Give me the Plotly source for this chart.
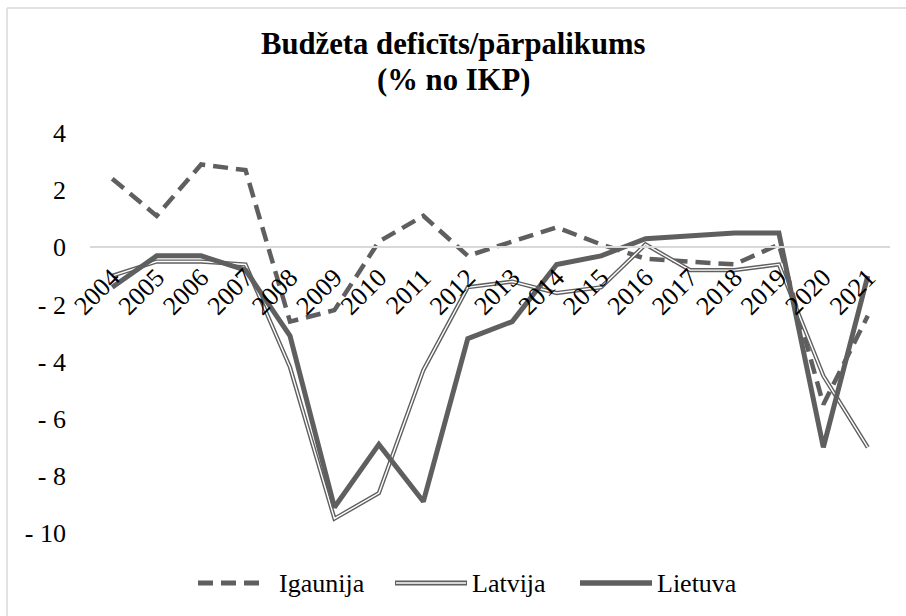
import plotly.graph_objects as go

years = [str(y) for y in range(2004, 2022)]
igaunija = [2.4, 1.1, 2.9, 2.7, -2.6, -2.2, 0.2, 1.1, -0.3, 0.2, 0.7, 0.1, -0.4, -0.5, -0.6, 0.1, -5.5, -2.4]
latvija = [-1.0, -0.5, -0.5, -0.6, -4.2, -9.5, -8.6, -4.3, -1.4, -1.2, -1.6, -1.4, 0.1, -0.8, -0.8, -0.6, -4.5, -7.0]
lietuva = [-1.4, -0.3, -0.3, -0.8, -3.1, -9.1, -6.9, -8.9, -3.2, -2.6, -0.6, -0.3, 0.3, 0.4, 0.5, 0.5, -7.0, -1.0]
y_ticks = [4, 2, 0, -2, -4, -6, -8, -10]
y_tick_text = ["4", "2", "0", "- 2", "- 4", "- 6", "- 8", "- 10"]
series_names = ["Igaunija", "Latvija", "Lietuva"]
title_lines = ["Budžeta deficīts/pārpalikums", "(% no IKP)"]

GRAY = "#5f5f5f"
FONT = "Liberation Serif"
W, H = 906, 616
ML, MR, MT, MB = 90, 16, 133, 83
YMIN, YMAX = -10, 4

def px_x(px):
    return (px - ML) / (W - ML - MR)

def px_y(py):
    return (H - MB - py) / (H - MT - MB)

fig = go.Figure()
fig.add_trace(go.Scatter(x=years, y=igaunija, mode="lines", name=series_names[0],
                         line=dict(color=GRAY, width=4.5, dash="15px,8px"), showlegend=False))
fig.add_trace(go.Scatter(x=years, y=latvija, mode="lines", name=series_names[1],
                         line=dict(color=GRAY, width=4.2), showlegend=False))
fig.add_trace(go.Scatter(x=years, y=latvija, mode="lines", name=series_names[1] + " inner",
                         line=dict(color="white", width=1.4), showlegend=False, hoverinfo="skip"))
fig.add_trace(go.Scatter(x=years, y=lietuva, mode="lines", name=series_names[2],
                         line=dict(color=GRAY, width=5), showlegend=False))

shapes = []
# border of chart area (partially visible)
shapes.append(dict(type="line", xref="paper", yref="paper", x0=px_x(7), x1=px_x(906), y0=px_y(8), y1=px_y(8),
                   line=dict(color="#d9d9d9", width=1.5)))
shapes.append(dict(type="line", xref="paper", yref="paper", x0=px_x(7), x1=px_x(7), y0=px_y(8), y1=px_y(616),
                   line=dict(color="#d9d9d9", width=1.5)))

# manual legend
leg_y = px_y(583)
sym = [(198, 263), (395, 467), (580, 652)]
txt_x = [277, 470, 655]
shapes.append(dict(type="line", xref="paper", yref="paper", x0=px_x(sym[0][0]), x1=px_x(sym[0][1]), y0=leg_y, y1=leg_y,
                   line=dict(color=GRAY, width=5, dash="15px,8px")))
shapes.append(dict(type="line", xref="paper", yref="paper", x0=px_x(sym[1][0]), x1=px_x(sym[1][1]), y0=leg_y, y1=leg_y,
                   line=dict(color=GRAY, width=5)))
shapes.append(dict(type="line", xref="paper", yref="paper", x0=px_x(sym[1][0] + 1), x1=px_x(sym[1][1] - 1), y0=leg_y, y1=leg_y,
                   line=dict(color="white", width=1.6)))
shapes.append(dict(type="line", xref="paper", yref="paper", x0=px_x(sym[2][0]), x1=px_x(sym[2][1]), y0=leg_y, y1=leg_y,
                   line=dict(color=GRAY, width=5.5)))

annotations = []
for name, tx in zip(series_names, txt_x):
    annotations.append(dict(text=name, x=px_x(tx), y=leg_y, xref="paper", yref="paper",
                            xanchor="left", yanchor="middle", showarrow=False,
                            font=dict(family=FONT, size=26, color="black")))
for line_text, cy in zip(title_lines, [44, 80]):
    annotations.append(dict(text="<b>" + line_text + "</b>", x=px_x(W / 2), y=px_y(cy), xref="paper", yref="paper",
                            xanchor="center", yanchor="middle", showarrow=False,
                            font=dict(family=FONT, size=30.7, color="black")))

fig.update_layout(
    width=W, height=H,
    margin=dict(l=ML, r=MR, t=MT, b=MB, autoexpand=False),
    paper_bgcolor="white", plot_bgcolor="white",
    font=dict(family=FONT, size=26, color="black"),
    showlegend=False,
    shapes=shapes,
    annotations=annotations,
    xaxis=dict(type="category", range=[-0.5, len(years) - 0.5], showgrid=False, zeroline=False,
               showline=True, automargin=False,
               linecolor="#d9d9d9", linewidth=1.5, ticks="", tickangle=-45, ticklabelstandoff=4,
               anchor="free", position=(0 - YMIN) / (YMAX - YMIN),
               tickfont=dict(family=FONT, size=26, color="black")),
    yaxis=dict(range=[YMIN, YMAX], showgrid=False, zeroline=False, showline=False, automargin=False,
               tickvals=y_ticks, ticktext=y_tick_text, ticks="", ticklabelstandoff=23,
               tickfont=dict(family=FONT, size=26, color="black")),
)

fig.write_html("out.html", config={"displayModeBar": False},
               post_script="document.body.style.margin='0px';")
